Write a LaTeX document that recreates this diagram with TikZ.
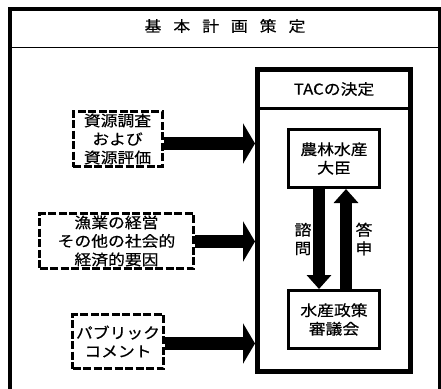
\documentclass[tikz,border=0pt]{standalone}
\usepackage{fontspec}
\setmainfont{Noto Sans CJK JP}[FakeStretch=1.12,FakeBold=0.5]
\usetikzlibrary{arrows.meta,calc}
\begin{document}
\begin{tikzpicture}[x=1pt,y=-1pt,
  txt/.style={font=\fontsize{15}{18.5}\selectfont, align=center, inner sep=0pt},
  dbox/.style={draw, line width=3pt, dash pattern=on 8pt off 2.5pt, txt, fill=white},
  sbox/.style={draw, line width=3pt, txt, fill=white},
  bigarrow/.style={line width=13pt, -{Triangle[width=40pt,length=12pt]}},
  smallarrow/.style={line width=12pt, -{Triangle[width=24pt,length=14pt]}},
]
\useasboundingbox (0,0) rectangle (441,388);
\begin{scope}
\clip (0,0) rectangle (441,388);
% outer frame
\draw[line width=4pt] (10,400) -- (10,9) -- (440,9) -- (440,400);
\draw[line width=1.5pt] (10,47.5) -- (440,47.5);
\node[txt] (title) at (225,26) {{\spaceskip=12pt\relax 基 本 計 画 策 定}};

% TAC box
\node[draw, line width=5pt, minimum width=153pt, minimum height=302.5pt, inner sep=0pt] (tac) at (334,220.25) {};
\coordinate (tsep) at (0,108.5);
\draw[line width=3pt] (tac.west |- tsep) -- (tac.east |- tsep);
\node[txt] (tactitle) at (334,89) {TACの決定};

\node[sbox, minimum width=91pt, minimum height=58pt] (nr) at (334,158.5) {農林水産\\大臣};
\node[sbox, minimum width=91pt, minimum height=58pt] (sc) at (334,319.5) {水産政策\\審議会};

\coordinate (dx) at (319,0);
\coordinate (ux) at (346,0);
\draw[smallarrow] (dx |- nr.south) -- (dx |- sc.north);
\draw[smallarrow] (ux |- sc.north) -- (ux |- nr.south);
\node[txt] (shimon) at (303,239) {諮\\問};
\node[txt] (toshin) at (364,239) {答\\申};

% dashed boxes
\node[dbox, minimum width=89pt, minimum height=55pt] (b1) at (117.5,139) {資源調査\\および\\資源評価};
\node[dbox, minimum width=154pt, minimum height=55pt] (b2) at (116.5,241) {漁業の経営\\その他の社会的\\経済的要因};
\node[dbox, minimum width=91pt, minimum height=54pt] (b3) at (118,341.5) {パブリック\\コメント};

\coordinate (a1) at ($(b1.east)+(0,4.5)$);
\coordinate (a2) at ($(b2.east)+(0,0.5)$);
\coordinate (a3) at ($(b3.east)+(0,2)$);
\draw[bigarrow] (a1) -- (a1 -| tac.west);
\draw[bigarrow] (a2) -- (a2 -| tac.west);
\draw[bigarrow] (a3) -- (a3 -| tac.west);
\end{scope}
\end{tikzpicture}
\end{document}
